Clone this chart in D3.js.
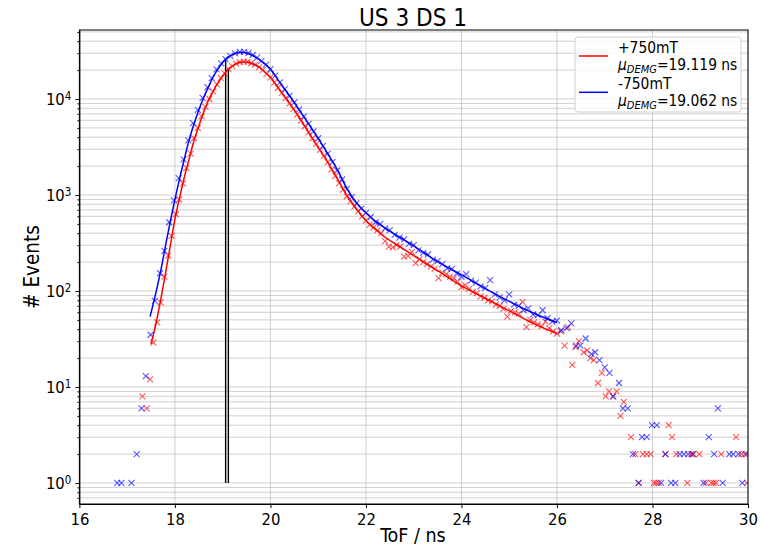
<!DOCTYPE html>
<html>
<head>
<meta charset="utf-8">
<script src="https://cdn.jsdelivr.net/npm/d3@7"></script>
<style>
  html, body { margin: 0; padding: 0; background: #fff; }
  svg { display: block; }
  text { font-family: "DejaVu Sans Condensed", "DejaVu Sans", sans-serif; fill: #000; }
</style>
</head>
<body>
<svg id="chart" width="762" height="547"></svg>
<script>
// Time-of-flight spectra, +750 mT (red) and -750 mT (blue)
const redTof = [17.32,17.41,17.48,17.55,17.63,17.70,17.78,17.86,17.93,18.02,18.09,18.17,18.24,18.33,18.40,18.48,18.56,18.64,18.72,18.80,18.88,18.96,19.04,19.12,19.20,19.28,19.36,19.44,19.52,19.60,19.68,19.76,19.84,19.92,20.00,20.08,20.16,20.24,20.32,20.40,20.48,20.56,20.64,20.72,20.80,20.88,20.96,21.04,21.12,21.20,21.28,21.36,21.44,21.52,21.60,21.68,21.76,21.84,21.92,22.00,22.08,22.16,22.24,22.32,22.40,22.48,22.56,22.64,22.72,22.80,22.88,22.96,23.04,23.12,23.20,23.28,23.36,23.44,23.52,23.60,23.68,23.76,23.84,23.92,24.00,24.08,24.16,24.24,24.32,24.40,24.48,24.56,24.64,24.72,24.80,24.88,24.96,25.04,25.12,25.20,25.28,25.36,25.44,25.52,25.60,25.68,25.76,25.84,25.92,26.00,26.08,26.16,26.23,26.32,26.39,26.46,26.56,26.63,26.70,26.77,26.86,26.94,27.02,27.09,27.17,27.25,27.33,27.40,27.55,27.64,27.71,27.80,27.88,27.96,28.03,28.08,28.13,28.27,28.34,28.41,28.50,28.73,28.81,28.86,28.98,29.12,29.23,29.28,29.33,29.44,29.75,29.86,29.93,29.98];
const redCounts = [8,6,12,29,47,76,141,233,375,630,900,1320,1920,2700,3900,5000,6600,8300,10000,12000,14200,16600,18500,20500,22000,23400,24200,24500,24300,23700,22800,21500,20000,18300,16800,14800,13100,11600,10200,9000,7900,6900,6000,5200,4500,3900,3400,2950,2550,2200,1850,1580,1330,1140,970,860,760,680,600,540,490,460,430,400,330,290,285,300,290,228,232,255,195,215,200,190,180,170,136,155,150,140,135,125,110,115,105,98,95,88,85,80,78,72,70,65,54,62,60,58,77,42,50,47,45,43,48,41,38,36,38,27,42,17,26,30,23,24,20,19,11,14,8,9,8,9,5,7,3,2,1,2,2,2,1,1,1,2,4,3,2,1,2,2,2,1,1,1,1,2,3,2,2,1];

const blueTof = [16.79,16.88,17.09,17.20,17.30,17.39,17.49,17.58,17.69,17.78,17.88,17.98,18.08,18.18,18.28,18.38,18.48,18.58,18.68,18.77,18.87,18.97,19.06,19.16,19.26,19.36,19.45,19.54,19.63,19.72,19.81,19.91,20.00,20.10,20.20,20.30,20.40,20.50,20.60,20.70,20.80,20.90,21.00,21.10,21.20,21.30,21.40,21.50,21.60,21.70,21.80,21.90,22.00,22.10,22.20,22.30,22.40,22.50,22.60,22.70,22.80,22.90,23.00,23.10,23.20,23.30,23.40,23.50,23.60,23.70,23.80,23.90,24.00,24.10,24.20,24.30,24.40,24.50,24.60,24.70,24.80,24.90,25.00,25.10,25.20,25.30,25.40,25.50,25.60,25.70,25.80,25.90,26.00,26.09,26.20,26.30,26.40,26.49,26.60,26.72,26.80,26.89,27.00,27.10,27.18,27.30,27.38,27.48,27.59,27.71,27.78,27.88,27.99,28.09,28.18,28.27,28.39,28.48,28.57,28.66,28.75,28.84,29.07,29.18,29.29,29.37,29.47,29.61,29.69,29.80,29.88,29.97];
const blueCounts = [1,1,1,2,6,13,35,79,153,262,520,880,1500,2350,3700,5600,7700,10300,13300,16500,20400,23500,26000,28000,29800,31000,31000,30200,28800,27000,25000,22800,20500,17500,14900,12700,10800,9200,7800,6600,5500,4600,3900,3250,2700,2200,1800,1450,1160,950,820,720,650,590,520,500,450,430,385,360,345,310,300,265,250,240,212,205,190,172,170,152,140,150,128,122,112,108,130,92,86,80,92,72,70,63,66,57,56,63,52,48,49,39,41,46,27,27,32,22,23,19,16,14,8,11,6,6,2,1,3,3,4,4,1,2,1,1,2,2,2,2,1,3,2,6,1,2,2,2,1,2];

// Fitted DEMG curves
const redFitTof = [17.50,17.60,17.70,17.80,17.90,18.00,18.10,18.20,18.30,18.40,18.50,18.60,18.70,18.80,18.90,19.00,19.10,19.20,19.30,19.40,19.50,19.60,19.70,19.80,19.90,20.00,20.20,20.40,20.60,20.80,21.00,21.20,21.40,21.60,21.80,22.00,22.20,22.40,22.70,23.00,23.50,24.00,24.50,25.00,25.50,26.00];
const redFit = [28,45,80,150,290,560,950,1550,2400,3700,5200,7300,9600,12000,14700,17300,20000,22000,23500,24300,24300,23600,22400,20900,18800,16800,12300,9000,6450,4470,3130,2190,1480,990,716,543,437,363,292,233,163,113,84,62,46,36];
const blueFitTof = [17.48,17.60,17.70,17.80,17.90,18.00,18.10,18.20,18.30,18.40,18.50,18.60,18.70,18.80,18.90,19.00,19.10,19.20,19.30,19.40,19.50,19.60,19.70,19.80,19.90,20.00,20.20,20.40,20.60,20.80,21.00,21.20,21.40,21.60,21.80,22.00,22.20,22.40,22.70,23.00,23.50,24.00,24.50,25.00,25.50,26.00];
const blueFit = [54,95,160,290,520,900,1500,2400,3800,5500,7700,10300,13300,17000,20500,24000,27000,29000,30300,30700,30200,28800,27000,25000,22800,20400,14800,10800,7760,5500,3890,2690,1840,1175,832,653,531,452,365,295,202,147,106,78,59,47];

// Fitted mean ToF for each field setting
const fieldLabels = ["+750mT", "-750mT"];
const muValues = [19.119, 19.062];
const seriesColors = ["#ff0000", "#0000ff"];

const xTicks = [16, 18, 20, 22, 24, 26, 28, 30];
const yTicks = [1, 10, 100, 1000, 10000];

const svg = d3.select("#chart");
const margin = { left: 79.4, right: 14, top: 30, bottom: 43 };
const W = 762, H = 547;

const x = d3.scaleLinear().domain([16, 30]).range([margin.left, W - margin.right]);
const y = d3.scaleLog().domain([0.604, 52330]).range([H - margin.bottom, margin.top]);

const minorY = [];
for (let e = -1; e <= 4; e++) {
  for (let k = 2; k <= 9; k++) {
    const v = k * Math.pow(10, e);
    if (v >= y.domain()[0] && v <= y.domain()[1]) minorY.push(v);
  }
}

// grid
const grid = svg.append("g").attr("class", "grid");
grid.selectAll("line.gy").data(yTicks.concat(minorY)).enter().append("line")
  .attr("x1", x.range()[0]).attr("x2", x.range()[1])
  .attr("y1", d => y(d)).attr("y2", d => y(d))
  .attr("stroke", "#b0b0b0").attr("stroke-width", 0.8).attr("stroke-opacity", 0.75);
grid.selectAll("line.gx").data(xTicks).enter().append("line")
  .attr("x1", d => x(d)).attr("x2", d => x(d))
  .attr("y1", y.range()[0]).attr("y2", y.range()[1])
  .attr("stroke", "#b0b0b0").attr("stroke-width", 0.8).attr("stroke-opacity", 0.75);

// clip region for the plotting area
svg.append("defs").append("clipPath").attr("id", "plotclip")
  .append("rect")
  .attr("x", x.range()[0]).attr("y", y.range()[1])
  .attr("width", x.range()[1] - x.range()[0])
  .attr("height", y.range()[0] - y.range()[1]);

const plot = svg.append("g").attr("clip-path", "url(#plotclip)");

// mean ToF markers
const muTop = [
  d3.scaleLinear().domain(redFitTof).range(redFit)(muValues[0]),
  d3.scaleLinear().domain(blueFitTof).range(blueFit)(muValues[1])
];
plot.selectAll("line.mu").data(muValues).enter().append("line")
  .attr("x1", d => x(d)).attr("x2", d => x(d))
  .attr("y1", y(1)).attr("y2", (d, i) => y(muTop[i]))
  .attr("stroke", "#000").attr("stroke-width", 1.4);

// data markers
const xMark = "M-3,-3L3,3M-3,3L3,-3";
function drawPoints(tof, counts, color) {
  const pts = tof.map((t, i) => [t, counts[i]]).filter(d => d[1] > 0);
  plot.append("g").selectAll("path").data(pts).enter().append("path")
    .attr("d", xMark)
    .attr("transform", d => `translate(${x(d[0])},${y(d[1])})`)
    .attr("stroke", color).attr("stroke-width", 1.1).attr("fill", "none")
    .attr("stroke-opacity", 0.65);
}
drawPoints(redTof, redCounts, seriesColors[0]);
drawPoints(blueTof, blueCounts, seriesColors[1]);

// fitted curves
const line = d3.line().x(d => x(d[0])).y(d => y(d[1])).curve(d3.curveMonotoneX);
plot.append("path").datum(redFitTof.map((t, i) => [t, redFit[i]]))
  .attr("d", line).attr("fill", "none").attr("stroke", seriesColors[0]).attr("stroke-width", 1.5);
plot.append("path").datum(blueFitTof.map((t, i) => [t, blueFit[i]]))
  .attr("d", line).attr("fill", "none").attr("stroke", seriesColors[1]).attr("stroke-width", 1.5);

// axes
const xAxis = svg.append("g").attr("transform", `translate(0,${y.range()[0]})`)
  .call(d3.axisBottom(x).tickValues(xTicks).tickSize(4).tickPadding(5).tickSizeOuter(0).tickFormat(d3.format("d")));
xAxis.selectAll("text").attr("font-size", 16.5);

const yAxis = svg.append("g").attr("transform", `translate(${x.range()[0]},0)`)
  .call(d3.axisLeft(y).tickValues(yTicks).tickSize(4).tickPadding(5).tickSizeOuter(0).tickFormat(() => ""));
svg.append("g").attr("transform", `translate(${x.range()[0]},0)`)
  .call(d3.axisLeft(y).tickValues(minorY).tickSize(2).tickSizeOuter(0).tickFormat(() => ""))
  .select(".domain").remove();

yAxis.selectAll(".tick").each(function (d) {
  const t = d3.select(this).append("text")
    .attr("x", -8).attr("dy", "0.35em").attr("text-anchor", "end").attr("font-size", 16.5);
  t.append("tspan").text("10");
  t.append("tspan").attr("dy", "-0.5em").attr("font-size", 11.5).text(String(Math.round(Math.log10(d))));
});

svg.selectAll(".domain").attr("stroke", "#000").attr("stroke-width", 1);
svg.selectAll(".tick line").attr("stroke", "#000");

// frame (top and right spines)
svg.append("rect")
  .attr("x", x.range()[0]).attr("y", y.range()[1])
  .attr("width", x.range()[1] - x.range()[0]).attr("height", y.range()[0] - y.range()[1])
  .attr("fill", "none").attr("stroke", "#000").attr("stroke-width", 1);

// title and axis labels
svg.append("text").attr("x", 413).attr("y", 26).attr("text-anchor", "middle")
  .attr("font-size", 24).text("US 3 DS 1");
svg.append("text").attr("x", 413).attr("y", 542).attr("text-anchor", "middle")
  .attr("font-size", 19.5).text("ToF / ns");
svg.append("text").attr("transform", `translate(39,${(y.range()[0] + y.range()[1]) / 2}) rotate(-90)`)
  .attr("text-anchor", "middle").attr("font-size", 20.5).text("# Events");

// legend
const lg = svg.append("g").attr("transform", "translate(575,37)");
lg.append("rect").attr("x", 0).attr("y", 0).attr("width", 166).attr("height", 75).attr("rx", 3)
  .attr("fill", "#fff").attr("fill-opacity", 0.85).attr("stroke", "#d0d0d0").attr("stroke-width", 1);
fieldLabels.forEach((lab, i) => {
  const cy = 19 + i * 36.3;
  lg.append("line").attr("x1", 4).attr("x2", 33).attr("y1", cy).attr("y2", cy)
    .attr("stroke", seriesColors[i]).attr("stroke-width", 1.5);
  lg.append("text").attr("x", 43).attr("y", cy - 3).attr("font-size", 15.4).text(lab);
  const t = lg.append("text").attr("x", 43).attr("y", cy + 13.5).attr("font-size", 15.4);
  t.append("tspan").attr("font-style", "italic").text("μ");
  t.append("tspan").attr("font-style", "italic").attr("font-size", 11).attr("dy", 3).text("DEMG");
  t.append("tspan").attr("dy", -3).text("=" + muValues[i].toFixed(3) + " ns");
});
</script>
</body>
</html>
